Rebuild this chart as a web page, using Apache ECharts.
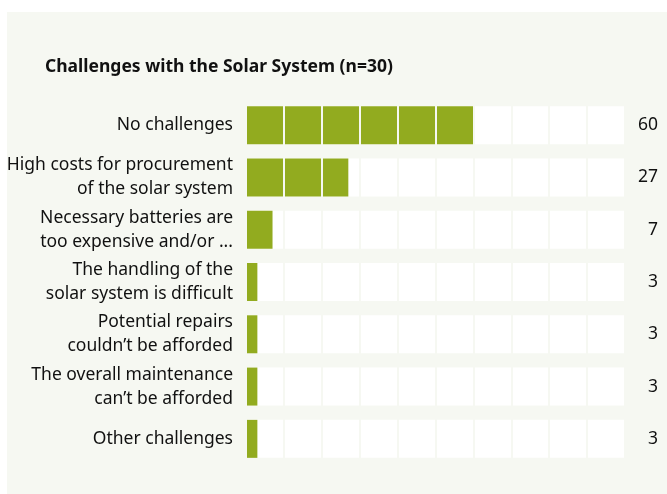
<!DOCTYPE html>
<html>
<head>
<meta charset="utf-8">
<script src="https://cdn.jsdelivr.net/npm/echarts@6/dist/echarts.min.js"></script>
<style>
html,body{margin:0;padding:0;background:#ffffff;}
#c{width:667px;height:494px;}
</style>
</head>
<body>
<div id="c"></div>
<script>
const titleText = 'Challenges with the Solar System (n=30)';
const categories = [
  'No challenges',
  'High costs for procurement\nof the solar system',
  'Necessary batteries are\ntoo expensive and/or ...',
  'The handling of the\nsolar system is difficult',
  'Potential repairs\ncouldn\u2019t be afforded',
  'The overall maintenance\ncan\u2019t be afforded',
  'Other challenges'
];
const values = [60, 27, 7, 3, 3, 3, 3];
const valueLabels = ['60', '27', '7', '3', '3', '3', '3'];

const chart = echarts.init(document.getElementById('c'), null, {renderer: 'canvas'});
const panel = '#f6f8f2';
chart.setOption({
  backgroundColor: '#ffffff',
  animation: false,
  graphic: [{
    type: 'rect', z: -10, silent: true,
    shape: {x: 7, y: 12, width: 660, height: 482},
    style: {fill: panel}
  }],
  title: {
    text: titleText,
    left: 40, top: 53,
    textStyle: {fontFamily: 'Noto Sans', fontWeight: 'bold', fontSize: 17.5, color: '#111111'}
  },
  grid: {left: 246, right: 42, top: 99, bottom: 29, containLabel: false},
  xAxis: {
    type: 'value', min: 0, max: 100, interval: 10, z: 5,
    axisLabel: {show: false}, axisTick: {show: false}, axisLine: {show: false},
    splitLine: {show: true, lineStyle: {color: panel, width: 2}}
  },
  yAxis: [{
    type: 'category', inverse: true, data: categories,
    axisLine: {show: false}, axisTick: {show: false},
    axisLabel: {
      margin: 13, fontFamily: 'Noto Sans', fontSize: 17.5, color: '#111111',
      lineHeight: 24, align: 'right'
    }
  }, {
    type: 'category', inverse: true, position: 'right', data: valueLabels,
    axisLine: {show: false}, axisTick: {show: false},
    axisLabel: {
      margin: 33, align: 'right', fontFamily: 'Noto Sans', fontSize: 17.5, color: '#111111'
    }
  }],
  series: [{
    type: 'bar', data: values, barWidth: 38, yAxisIndex: 0,
    itemStyle: {color: '#92ab1f'},
    showBackground: true,
    backgroundStyle: {color: '#ffffff'}
  }]
});
</script>
</body>
</html>
